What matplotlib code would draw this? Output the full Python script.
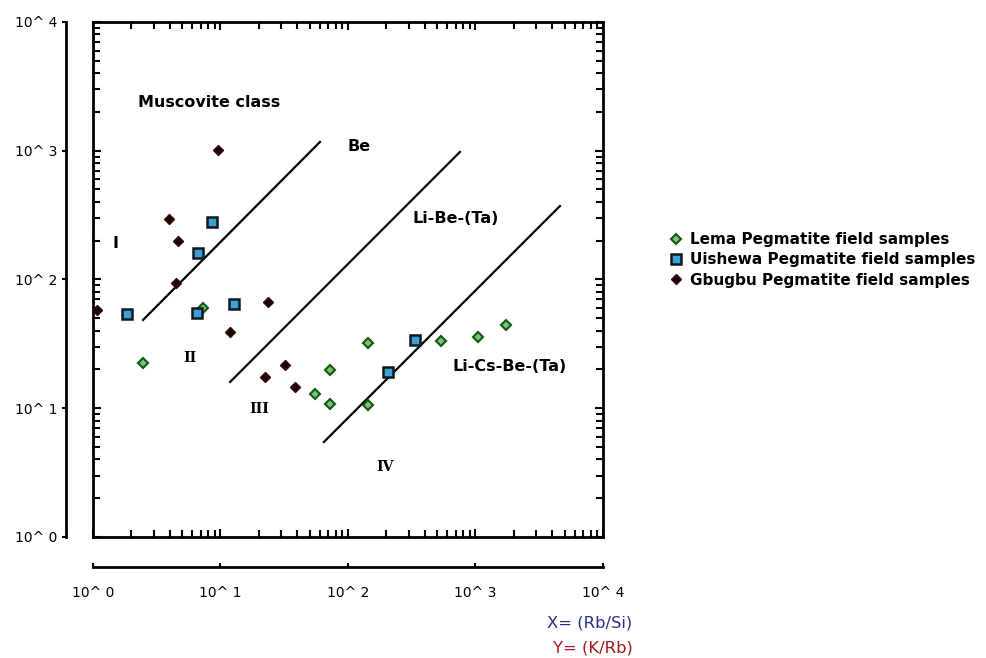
import matplotlib.pyplot as plt
from matplotlib.ticker import LogLocator, NullLocator, FixedLocator, FixedFormatter

# Sample data (X = Rb/Si, Y = K/Rb)
lema_x = [7.3, 2.47, 55, 72, 72, 143, 143, 536, 1045, 1735]
lema_y = [60, 22.5, 12.9, 19.8, 10.8, 32.1, 10.6, 33.3, 35.7, 44.3]

uishewa_x = [1.85, 8.58, 6.66, 6.54, 12.8, 335, 206]
uishewa_y = [54, 280, 161, 55, 64.5, 33.9, 19.1]

gbugbu_x = [1.07, 9.6, 3.95, 4.64, 4.48, 23.6, 11.9, 22.3, 32, 38.4]
gbugbu_y = [58, 1014, 296, 199, 94, 67, 39, 17.5, 21.7, 14.6]

# Class boundary lines (start, end)
boundary_x = [(2.47, 60.3), (11.9, 755), (64.8, 4600)]
boundary_y = [(48.5, 1170), (16, 978), (5.47, 372)]

decades = [1, 10, 100, 1000, 10000]
decade_labels = ['10^ 0', '10^ 1', '10^ 2', '10^ 3', '10^ 4']

fig = plt.figure(figsize=(9.87, 6.58), dpi=100)
rect = [0.0942, 0.1839, 0.5167, 0.7827]

# Outer axes carrying the labelled, detached spines
ax2 = fig.add_axes(rect)
ax2.set_xscale('log')
ax2.set_yscale('log')
ax2.set_xlim(1, 1e4)
ax2.set_ylim(1, 1e4)
ax2.set_facecolor('none')
for side in ['top', 'right']:
    ax2.spines[side].set_visible(False)
ax2.spines['left'].set_position(('outward', 19.5))
ax2.spines['bottom'].set_position(('outward', 21.5))
ax2.spines['left'].set_linewidth(2)
ax2.spines['bottom'].set_linewidth(2)
for axis in [ax2.xaxis, ax2.yaxis]:
    axis.set_major_locator(FixedLocator(decades))
    axis.set_major_formatter(FixedFormatter(decade_labels))
    axis.set_minor_locator(NullLocator())
ax2.tick_params(axis='y', direction='out', length=3, width=1.5, labelsize=10, pad=3)
ax2.tick_params(axis='x', direction='in', length=3, width=1.5, labelsize=10, pad=14)

# Main plotting box
ax = fig.add_axes(rect)
ax.set_xscale('log')
ax.set_yscale('log')
ax.set_xlim(1, 1e4)
ax.set_ylim(1, 1e4)
ax.set_facecolor('none')
for side in ax.spines:
    ax.spines[side].set_linewidth(2)
for axis in [ax.xaxis, ax.yaxis]:
    axis.set_major_locator(LogLocator(base=10, numticks=10))
    axis.set_minor_locator(LogLocator(base=10, subs=range(2, 10), numticks=10))
ax.tick_params(which='both', direction='in', top=True, right=True,
               labelleft=False, labelbottom=False, width=1.5)
ax.tick_params(which='major', length=6)
ax.tick_params(which='minor', length=5)

for bx, by in zip(boundary_x, boundary_y):
    ax.plot(bx, by, color='black', linewidth=1.6, zorder=2)

ax.plot(lema_x, lema_y, linestyle='none', marker='D', markersize=5,
        markerfacecolor='#7fbf7f', markeredgecolor='#0e5a0e', markeredgewidth=1.5,
        label='Lema Pegmatite field samples', zorder=3)
ax.plot(uishewa_x, uishewa_y, linestyle='none', marker='s', markersize=6.5,
        markerfacecolor='#3aa0d8', markeredgecolor='#101820', markeredgewidth=1.8,
        label='Uishewa Pegmatite field samples', zorder=3)
ax.plot(gbugbu_x, gbugbu_y, linestyle='none', marker='D', markersize=5.5,
        markerfacecolor='#1a0505', markeredgecolor='#3a0808', markeredgewidth=1,
        label='Gbugbu Pegmatite field samples', zorder=3)

# Region labels
fs = 11.5
ax.text(2.25, 2350, 'Muscovite class', fontsize=fs, fontweight='bold', va='center')
ax.text(1.51, 192, 'I', fontsize=fs, fontweight='bold', ha='center', va='center')
ax.text(100, 1070, 'Be', fontsize=fs, fontweight='bold', va='center')
ax.text(323, 300, 'Li-Be-(Ta)', fontsize=fs, fontweight='bold', va='center')
ax.text(5.8, 24.6, 'II', fontsize=10, fontweight='bold', family='DejaVu Serif', ha='center', va='center')
ax.text(20, 9.8, 'III', fontsize=10, fontweight='bold', family='DejaVu Serif', ha='center', va='center')
ax.text(195, 3.5, 'IV', fontsize=10, fontweight='bold', family='DejaVu Serif', ha='center', va='center')
ax.text(666, 21, 'Li-Cs-Be-(Ta)', fontsize=fs, fontweight='bold', va='center')

ax.legend(loc='center left', bbox_to_anchor=(0.663, 0.605), bbox_transform=fig.transFigure,
          frameon=False, prop={'weight': 'bold', 'size': 11}, handletextpad=0.4,
          labelspacing=0.35, handlelength=1)

fig.text(0.641, 0.053, 'X= (Rb/Si)', color='#2b2f8a', fontsize=11.8, ha='right', va='center')
fig.text(0.641, 0.015, 'Y= (K/Rb)', color='#a01820', fontsize=11.8, ha='right', va='center')

fig.savefig('out.png', dpi=100)
